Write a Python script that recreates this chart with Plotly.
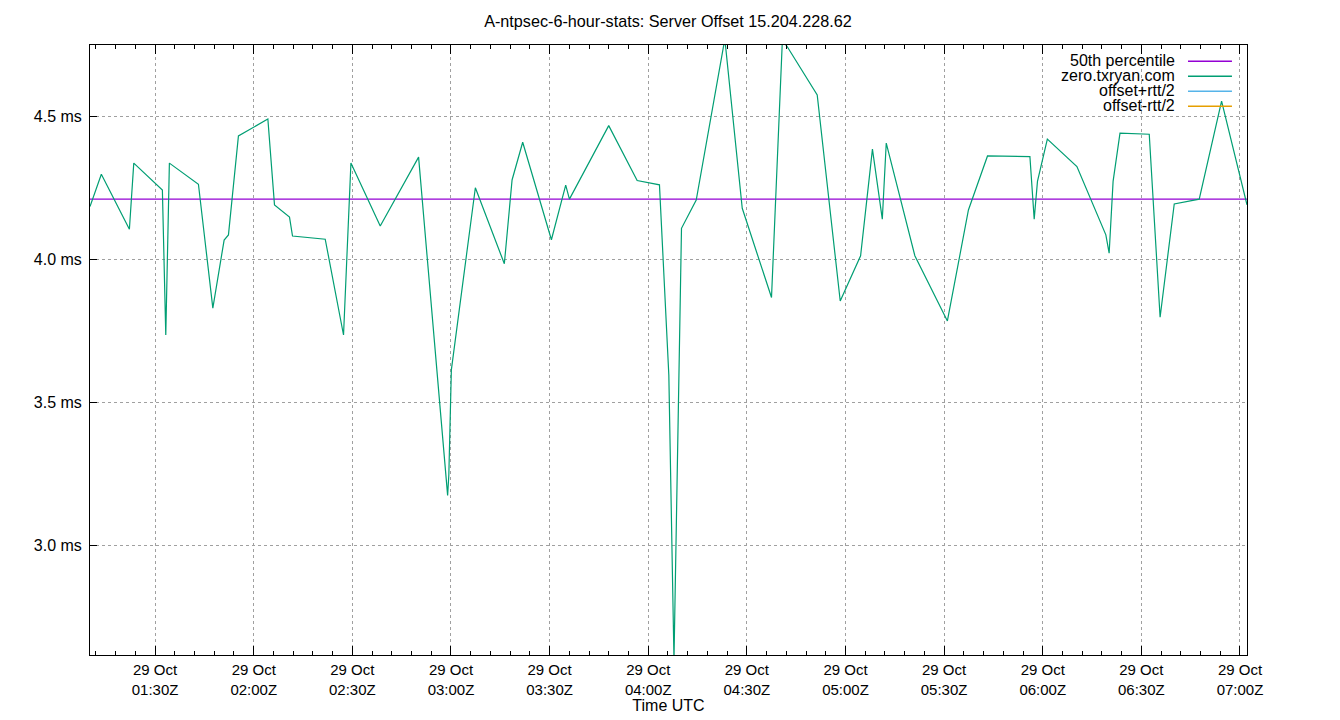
import plotly.graph_objects as go

DAY = "2024-10-29"

# sample times (UTC) and server offset (ms) for zero.txryan.com
times = [
    "01:10:12", "01:13:39", "01:22:11", "01:23:31", "01:32:13", "01:33:15", "01:34:21",
    "01:43:11", "01:47:34", "01:51:00", "01:52:19", "01:55:21", "02:04:18", "02:06:19",
    "02:10:53", "02:11:48", "02:21:45", "02:27:19", "02:29:34", "02:38:29", "02:50:09",
    "02:58:59", "02:59:21", "03:00:07", "03:07:25", "03:16:14", "03:18:35", "03:21:49",
    "03:30:33", "03:34:54", "03:36:02", "03:47:59", "03:56:38", "04:03:25", "04:06:16",
    "04:07:50", "04:10:07", "04:14:36", "04:23:18", "04:28:36", "04:37:30", "04:40:48",
    "04:42:18", "04:51:24", "04:58:24", "05:04:36", "05:08:12", "05:11:12", "05:12:24",
    "05:21:06", "05:31:00", "05:37:24", "05:43:12", "05:56:06", "05:57:24", "05:58:24",
    "06:01:24", "06:10:24", "06:19:12", "06:20:12", "06:21:24", "06:23:30", "06:32:24",
    "06:35:42", "06:40:00", "06:47:36", "06:54:24", "07:02:08",
]
offset_ms = [
    4.184, 4.297, 4.105, 4.336, 4.242, 3.735, 4.336,
    4.262, 3.829, 4.067, 4.085, 4.431, 4.490, 4.190,
    4.147, 4.081, 4.070, 3.735, 4.336, 4.116, 4.357,
    3.174, 3.246, 3.613, 4.250, 3.984, 4.277, 4.409,
    4.068, 4.259, 4.210, 4.467, 4.275, 4.260, 3.595,
    2.599, 4.108, 4.207, 4.770, 4.178, 3.866, 4.765,
    4.743, 4.574, 3.854, 4.012, 4.385, 4.140, 4.406,
    4.012, 3.784, 4.172, 4.361, 4.359, 4.140, 4.272,
    4.420, 4.324, 4.085, 4.021, 4.272, 4.441, 4.437,
    3.797, 4.193, 4.210, 4.553, 4.190,
]
median_ms = 4.21
offset_plus_rtt = []   # not drawn in the reference
offset_minus_rtt = []  # not drawn in the reference

x_tick_times = ["01:30", "02:00", "02:30", "03:00", "03:30", "04:00",
                "04:30", "05:00", "05:30", "06:00", "06:30", "07:00"]
x_tick_labels = ["29 Oct<br>%sZ" % t for t in x_tick_times]
y_tick_vals = [3.0, 3.5, 4.0, 4.5]
y_tick_labels = ["3.0 ms", "3.5 ms", "4.0 ms", "4.5 ms"]

series_names = ["50th percentile", "zero.txryan.com", "offset+rtt/2", "offset-rtt/2"]
series_colors = ["#9400d3", "#009e73", "#56b4e9", "#e69f00"]

x = [f"{DAY} {t}" for t in times]

fig = go.Figure()
fig.add_trace(go.Scatter(x=[x[0], x[-1]], y=[median_ms, median_ms], mode="lines",
                         line=dict(color=series_colors[0], width=1.2), name=series_names[0],
                         showlegend=False))
fig.add_trace(go.Scatter(x=x, y=offset_ms, mode="lines",
                         line=dict(color=series_colors[1], width=1.2), name=series_names[1],
                         showlegend=False))
fig.add_trace(go.Scatter(x=[f"{DAY} {t}" for t, _ in offset_plus_rtt],
                         y=[v for _, v in offset_plus_rtt], mode="lines",
                         line=dict(color=series_colors[2], width=1.2), name=series_names[2],
                         showlegend=False))
fig.add_trace(go.Scatter(x=[f"{DAY} {t}" for t, _ in offset_minus_rtt],
                         y=[v for _, v in offset_minus_rtt], mode="lines",
                         line=dict(color=series_colors[3], width=1.2), name=series_names[3],
                         showlegend=False))

FONT = "Liberation Sans, Arial, sans-serif"
FS = 16

# key (gnuplot style: right-aligned text, sample line on the right)
row_y = [0.9754, 0.9508, 0.9262, 0.9016]
for name, col, yy in zip(series_names, series_colors, row_y):
    fig.add_annotation(x=0.9395, y=yy, xref="paper", yref="paper", text=name,
                       showarrow=False, xanchor="right", yanchor="middle",
                       font=dict(family=FONT, size=FS, color="#000000"))
    fig.add_shape(type="line", xref="paper", yref="paper", x0=0.949, x1=0.987,
                  y0=yy - 0.002, y1=yy - 0.002, line=dict(color=col, width=1.5))

fig.update_layout(
    width=1340, height=720,
    margin=dict(l=90, r=93, t=45, b=65, autoexpand=False),
    paper_bgcolor="white", plot_bgcolor="white",
    font=dict(family=FONT, size=FS, color="#000000"),
    title=dict(text="A-ntpsec-6-hour-stats: Server Offset 15.204.228.62",
               x=668 / 1340, xanchor="center", y=1 - 21 / 720, yanchor="middle",
               font=dict(family=FONT, size=16.2)),
    showlegend=False,
    xaxis=dict(
        range=[x[0], x[-1]], automargin=False,
        tickvals=[f"{DAY} {t}:00" for t in x_tick_times], ticktext=x_tick_labels,
        ticks="inside", ticklen=9, tickcolor="black", tickwidth=1,
        minor=dict(ticks="inside", ticklen=4, dtick=360000, tick0=f"{DAY} 01:30:00",
                   tickcolor="black", showgrid=False),
        showline=True, linecolor="black", linewidth=1, mirror="ticks",
        showgrid=True, gridcolor="#a0a0a0", griddash="dot", gridwidth=1,
        zeroline=False,
        tickfont=dict(family=FONT, size=15),
        ticklabelstandoff=1,
        title=dict(text="Time UTC", standoff=3, font=dict(family=FONT, size=FS)),
    ),
    yaxis=dict(
        range=[2.616, 4.749], automargin=False,
        tickvals=y_tick_vals, ticktext=y_tick_labels,
        ticks="inside", ticklen=7, tickcolor="black", tickwidth=1,
        showline=True, linecolor="black", linewidth=1, mirror=True,
        showgrid=True, gridcolor="#a0a0a0", griddash="dot", gridwidth=1,
        zeroline=False,
        tickfont=dict(family=FONT, size=FS),
        ticklabelstandoff=4,
    ),
)

fig.write_html("out.html")
